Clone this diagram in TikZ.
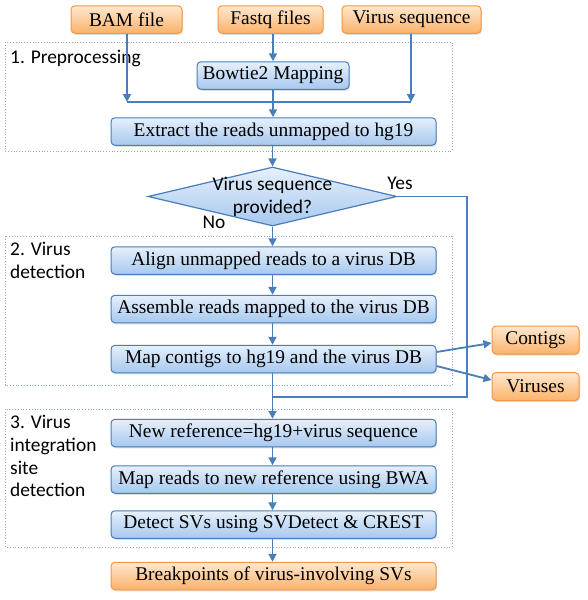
\documentclass[tikz,border=0pt]{standalone}
\usepackage{fontspec}
\setmainfont{Liberation Serif}
\newfontfamily\labfont{Carlito}
\usetikzlibrary{arrows.meta,shapes.geometric,shadows,calc}
\definecolor{lineblue}{HTML}{4A7EBB}
\definecolor{boxtop}{HTML}{E6F0FB}
\definecolor{boxbot}{HTML}{A6C8EF}
\definecolor{orgtop}{HTML}{FEE8D0}
\definecolor{orgbot}{HTML}{FBB26A}
\definecolor{orgedge}{HTML}{F79646}
\definecolor{dotblue}{HTML}{8EA9D0}
\begin{document}
\begin{tikzpicture}[x=1pt,y=-1pt,
  every node/.style={font=\fontsize{19.4}{23}\selectfont, inner sep=0pt},
  bluebox/.style={draw=lineblue, line width=1pt, rounded corners=4pt,
    top color=boxtop, bottom color=boxbot,
    drop shadow={shadow xshift=1pt,shadow yshift=-1.5pt,opacity=0.25},
    minimum height=27.5pt},
  orgbox/.style={draw=orgedge, line width=1pt, rounded corners=4pt,
    top color=orgtop, bottom color=orgbot,
    drop shadow={shadow xshift=1pt,shadow yshift=-1.5pt,opacity=0.25},
    minimum height=27.5pt},
  decision/.style={diamond, draw=lineblue, line width=1.2pt,
    top color=boxtop, bottom color=boxbot,
    minimum width=249pt, minimum height=59pt, inner sep=0pt},
  group/.style={draw=dotblue, line width=0.8pt, dotted},
  grouplabel/.style={font=\labfont\fontsize{19.4}{22.8}\selectfont, align=left, anchor=north west},
  flow/.style={draw=lineblue, line width=1.8pt, -{Triangle[width=8pt,length=8pt]}},
  plain/.style={draw=lineblue, line width=1.8pt},
  ans/.style={font=\labfont\fontsize{19.4}{23}\selectfont}
]
\useasboundingbox[fill=white] (0,0) rectangle (587,600);

% groups
\draw[group] (5,42) rectangle (452,151);
\node[grouplabel] (g1) at (10,49.5) {1. Preprocessing};
\draw[group] (5,236) rectangle (452,385);
\node[grouplabel] (g2) at (10,242) {2. Virus\\detection};
\draw[group] (5,409) rectangle (452,547);
\node[grouplabel] (g3) at (10,415) {3. Virus\\integration\\site\\detection};

% inputs
\node[orgbox, minimum width=111pt] (bam) at (126.5,19.5) {BAM file};
\node[orgbox, minimum width=105pt] (fastq) at (270.5,19.5) {Fastq files};
\node[orgbox, minimum width=139pt] (virus) at (411.5,19.5) {Virus sequence};

% preprocessing
\node[bluebox, minimum width=152pt] (bowtie) at (273,75.5) {Bowtie2 Mapping};
\node[bluebox, minimum width=325pt] (extract) at (273.5,131.5) {Extract the reads unmapped to hg19};

% decision
\node[decision] (dec) at (272.5,196.5) {};
\node[font=\labfont\fontsize{19.4}{23}\selectfont, align=center] (dectext) at (272.5,197) {Virus sequence\\provided?};
\node[ans] (yes) at (400,183) {Yes};
\node[ans] (no) at (214,222) {No};

% virus detection
\node[bluebox, minimum width=325pt] (align) at (273.5,260.5) {Align unmapped reads to a virus DB};
\node[bluebox, minimum width=325pt] (assemble) at (273.5,309) {Assemble reads mapped to the virus DB};
\node[bluebox, minimum width=325pt] (mapc) at (273.5,359) {Map contigs to hg19 and the virus DB};
\node[orgbox, minimum width=87pt, minimum height=28pt] (contigs) at (535.5,340) {Contigs};
\node[orgbox, minimum width=87pt, minimum height=28pt] (viruses) at (535.5,386.5) {Viruses};

% integration
\node[bluebox, minimum width=325pt] (newref) at (273.5,433) {New reference=hg19+virus sequence};
\node[bluebox, minimum width=325pt] (mapreads) at (273.5,479.5) {Map reads to new reference using BWA};
\node[bluebox, minimum width=325pt] (detect) at (273.5,524.5) {Detect SVs using SVDetect \& CREST};
\node[orgbox, minimum width=325pt] (bp) at (273.5,576) {Breakpoints of virus-involving SVs};

% connectors
\coordinate (jl) at (127,102);
\coordinate (jr) at (411,102);
\draw[flow] (bam.south -| jl) -- (jl);
\draw[flow] (virus.south -| jr) -- (jr);
\draw[plain, line width=1.2pt] (jl) -- (jr);
\draw[flow] (fastq.south -| bowtie.north) -- (bowtie.north);
\draw[flow] (bowtie.south) -- (extract.north -| bowtie.south);
\draw[flow] (extract.south -| dec.north) -- (dec.north);
\draw[flow] (dec.south) -- (align.north -| dec.south);
\draw[flow] (align.south -| dec.south) -- (assemble.north -| dec.south);
\draw[flow] (assemble.south -| dec.south) -- (mapc.north -| dec.south);
\coordinate (yc1) at (467,196.5);
\coordinate (yc2) at (467,397);
\draw[plain, line width=1.4pt] (dec.east) -- (yc1) -- (yc2) -- (yc2 -| dec.south);
\draw[flow] (mapc.south -| dec.south) -- (newref.north -| dec.south);
\draw[flow] ($(mapc.east)+(0,-7)$) -- ($(contigs.west)+(0,3)$);
\draw[flow] ($(mapc.east)+(0,7)$) -- ($(viruses.west)+(0,-6.5)$);
\draw[flow] (newref.south -| dec.south) -- (mapreads.north -| dec.south);
\draw[flow] (mapreads.south -| dec.south) -- (detect.north -| dec.south);
\draw[flow] (detect.south -| dec.south) -- (bp.north -| dec.south);
\end{tikzpicture}
\end{document}
